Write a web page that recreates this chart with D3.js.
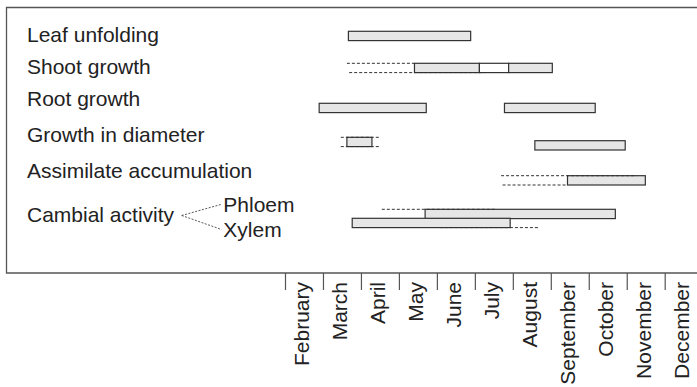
<!DOCTYPE html>
<html>
<head>
<meta charset="utf-8">
<script src="https://cdn.jsdelivr.net/npm/d3@7"></script>
<style>
  html, body { margin: 0; padding: 0; background: #fff; }
  svg { display: block; }
  text { font-family: Arial, "Liberation Sans", Helvetica, sans-serif; fill: #222; }
</style>
</head>
<body>
<svg id="chart" width="697" height="387"></svg>
<script>
// ---- data (months counted from 1 January = 0) ----
const rows = ["Leaf unfolding", "Shoot growth", "Root growth", "Growth in diameter", "Assimilate accumulation", "Cambial activity"];
const subRows = ["Phloem", "Xylem"];
const months = ["February", "March", "April", "May", "June", "July", "August", "September", "October", "November", "December"];
const monthStarts = [1, 2, 3, 4, 5, 6, 7, 8, 9, 10, 11];

// solid bars
const barLane  = ["leaf", "shoot", "shoot", "shoot", "root", "root", "diam1", "diam2", "assim", "phloem", "xylem"];
const barStart = [2.67, 4.41, 6.12, 6.89, 1.90, 6.78, 2.63, 7.58, 8.44, 4.69, 2.77];
const barEnd   = [5.89, 6.12, 6.89, 8.04, 4.72, 9.17, 3.29, 9.96, 10.49, 9.70, 6.93];
const barKind  = ["active", "active", "pause", "active", "active", "active", "active", "active", "active", "active", "active"];

// dashed (uncertain) extents
const dashLane  = ["shoot", "shoot", "diam1", "diam1", "assim", "assim", "phloem", "xylem"];
const dashEdge  = ["top", "bottom", "top", "bottom", "top", "bottom", "top", "bottom"];
const dashStart = [2.63, 2.69, 2.47, 2.47, 6.69, 6.73, 3.55, 5.08];
const dashEnd   = [4.41, 6.27, 3.48, 3.48, 10.26, 8.44, 6.58, 7.70];

// ---- layout ----
const svg = d3.select("#chart");
const W = 697, H = 387;
const boxLeft = 6.5, boxTop = 7.5, boxBottom = 273;

const x = d3.scaleLinear().domain([0, 12]).range([247.03, 702.67]);
const lanes = ["leaf", "shoot", "root", "diam1", "diam2", "assim", "phloem", "xylem"];
const laneY = d3.scaleOrdinal().domain(lanes).range([31.3, 63.3, 103.3, 137.3, 140.7, 175.7, 209.3, 218.3]);
const barH = 9.3;
const rowY = d3.scaleOrdinal().domain(rows).range([41.5, 73.5, 106, 142.3, 178.3, 222.3]);
const subY = d3.scaleOrdinal().domain(subRows).range([211.8, 237]);

// frame
svg.append("path")
  .attr("d", `M${W + 2},${boxTop} H${boxLeft} V${boxBottom} H${W + 2}`)
  .attr("fill", "none").attr("stroke", "#555").attr("stroke-width", 1.3);

// row labels
svg.append("g").selectAll("text").data(rows).join("text")
  .attr("x", 27).attr("y", d => rowY(d))
  .attr("font-size", 21)
  .text(d => d);

// sub labels
svg.append("g").selectAll("text").data(subRows).join("text")
  .attr("x", 223.3).attr("y", d => subY(d))
  .attr("font-size", 21)
  .text(d => d);

// connectors for cambial activity
const cx0 = 181.7, cy0 = 215.5, cx1 = 221.5;
svg.append("g").selectAll("line").data(subRows).join("line")
  .attr("x1", cx0).attr("y1", cy0)
  .attr("x2", cx1).attr("y2", d => subY(d) - 7.5)
  .attr("stroke", "#444").attr("stroke-width", 0.9)
  .attr("stroke-dasharray", "2,1.5");

// bars
const bars = barLane.map((l, i) => ({ lane: l, s: barStart[i], e: barEnd[i], kind: barKind[i] }));
svg.append("g").selectAll("rect").data(bars).join("rect")
  .attr("x", d => x(d.s))
  .attr("y", d => laneY(d.lane))
  .attr("width", d => x(d.e) - x(d.s))
  .attr("height", barH)
  .attr("fill", d => d.kind === "pause" ? "#ffffff" : "#e6e6e6")
  .attr("stroke", "#333").attr("stroke-width", 1.2);

// dashed extents
const dashes = dashLane.map((l, i) => ({ lane: l, edge: dashEdge[i], s: dashStart[i], e: dashEnd[i] }));
svg.append("g").selectAll("line").data(dashes).join("line")
  .attr("x1", d => x(d.s)).attr("x2", d => x(d.e))
  .attr("y1", d => laneY(d.lane) + (d.edge === "top" ? 0 : barH))
  .attr("y2", d => laneY(d.lane) + (d.edge === "top" ? 0 : barH))
  .attr("stroke", "#333").attr("stroke-width", 1)
  .attr("stroke-dasharray", "3,2");

// month boundary ticks
const tickAxis = d3.axisBottom(x).tickValues(monthStarts).tickSize(17).tickFormat("");
const gt = svg.append("g").attr("transform", `translate(0,${boxBottom})`).call(tickAxis);
gt.select(".domain").remove();
gt.selectAll(".tick line").attr("stroke", "#555").attr("stroke-width", 1.2);

// month labels between ticks
const labelAxis = d3.axisBottom(x)
  .tickValues(monthStarts.map(m => m + 0.5))
  .tickSize(0)
  .tickFormat((d, i) => months[i]);
const gl = svg.append("g").attr("transform", `translate(0,${boxBottom})`).call(labelAxis);
gl.select(".domain").remove();
gl.selectAll(".tick text")
  .attr("transform", "rotate(-90)")
  .attr("text-anchor", "end")
  .attr("x", -9)
  .attr("y", 4.5)
  .attr("dy", 0)
  .attr("font-size", 21)
  .attr("font-family", "Arial, 'Liberation Sans', Helvetica, sans-serif")
  .attr("fill", "#222");
</script>
</body>
</html>
